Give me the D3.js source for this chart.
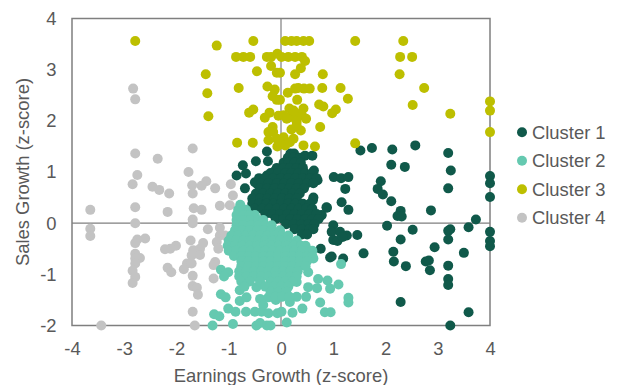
<!DOCTYPE html>
<html>
<head>
<meta charset="utf-8">
<script src="https://cdn.jsdelivr.net/npm/d3@7"></script>
<style>
body{margin:0;background:#fff;}
text{font-family:"Liberation Sans",Arial,sans-serif;fill:#595959;}
</style>
</head>
<body>
<div id="chart"></div>
<script>
var clusterNames=["Cluster 1","Cluster 2","Cluster 3","Cluster 4"];
var clusterColors=["#10594a","#65c9b0","#bdbf00","#c3c3c3"];
var xTicks=[-4,-3,-2,-1,0,1,2,3,4];
var yTicks=[-2,-1,0,1,2,3,4];

// scattered points
var cluster1=[[1.52,1.42],[1.74,1.47],[2.13,1.44],[2.57,1.52],[3.2,1.37],[2.11,1.14],[2.37,1.1],[3.25,1.03],[4,0.92],[1.01,0.9],[1.15,0.88],[1.29,0.9],[1.91,0.82],
[4,0.78],[4,0.51],[3.2,0.68],[1.85,0.67],[1.95,0.56],[2.11,0.43],[2.29,0.24],[2.23,0.14],[2.31,0.13],[2.87,0.25],[3.73,0.07],[3.59,-0.08],[3.24,-0.12],[3.2,-0.15],[3.2,-0.32],[2.03,-0.05],[2.52,-0.13],[2.29,-0.32],[1.46,-0.23],[4,-0.17],[4,-0.35],[4,-0.45],[2.94,-0.47],[3.5,-0.58],[2.15,-0.56],[1.58,-0.59],[2.16,-0.75],[2.39,-0.84],[2.77,-0.75],[2.83,-0.73],[2.85,-0.92],[3.2,-0.83],[3.2,-1.09],[3.2,-1.21],[2.29,-1.54],[3.59,-1.74],[3.24,-2],
[1.23,0.67],[1.16,0.41],[1.29,0.26],[0.88,0.3],[0.78,0.16],[0.62,0.5],[1,-0.04],[0.97,-0.17],[1.13,-0.17],[1.26,-0.24],[1,-0.33],[1.08,-0.35],[1.18,-0.27],[0.76,-0.5],[0.97,-0.65],[1.19,-0.69],[0.94,-0.67],
[-0.27,1.4],[-0.25,1.21],[-0.48,1.21],[-0.73,1.13],[-0.85,0.93],[-0.67,0.97],[-0.69,0.68],[-0.5,0.8],[-0.27,0.93],[-0.11,1.03],[0.63,1.03],[0.7,0.84],[0.61,0.45],[0.55,0.31],[0.87,0.31],[0.77,0.15],[0.46,1.32],[0.6,1.32],[-0.46,0.77]];
// the solid core, row by row: [y, x values]
var cluster1Core=[[1.36,[0.18,0.25]],[1.28,[0.13,0.24,0.36]],[1.18,[0.05,0.14,0.26,0.38]],[1.08,[-0.08,0.05,0.17,0.3,0.42]],[0.98,[-0.2,-0.06,0.08,0.2,0.33,0.46,0.6]],[0.88,[-0.42,-0.3,-0.15,0,0.14,0.28,0.42,0.56,0.68]],[0.78,[-0.38,-0.24,-0.08,0.06,0.2,0.34,0.5,0.62]],[0.68,[-0.4,-0.27,-0.12,0.02,0.16,0.3,0.44]],[0.58,[-0.48,-0.34,-0.2,-0.06,0.08,0.22,0.36]],[0.48,[-0.55,-0.4,-0.26,-0.12,0.02,0.16,0.3]],[0.38,[-0.55,-0.42,-0.28,-0.14,0,0.14,0.28,0.42,0.55]],[0.28,[-0.5,-0.36,-0.22,-0.08,0.06,0.2,0.34,0.48,0.6]],[0.18,[-0.3,-0.16,-0.02,0.12,0.26,0.4,0.54,0.68]],[0.08,[-0.1,0.04,0.18,0.32,0.46,0.6,0.72]],[-0.02,[0.1,0.24,0.38,0.52,0.64]],[-0.12,[0.26,0.4,0.54,0.62]],[-0.22,[0.4,0.5]]];

var cluster2=[[-1.15,-0.91],[-1.01,-0.96],[-1.09,-1.04],[-1.15,-1.39],[-1.06,-1.45],[-1.01,-1.67],[-0.87,-1.73],[-1.28,-1.78],[-1.18,-1.82],[-1.31,-2],[-0.92,-1.97],[-0.47,-2],[-0.4,-1.95],[-0.27,-2],[-0.2,-2],[-0.79,-1.52],[-0.66,-1.45],[-0.67,-1.73],[-0.5,-1.73],[-0.37,-1.73],[-0.24,-1.76],[-0.4,-1.48],[-0.24,-1.45],[-0.34,-1.6],[-0.1,-1.5],[-0.07,-1.76],[-0.47,-1.25],[-0.1,-1.28],[-0.79,-1.31],
[1.15,-0.8],[0.52,-0.96],[0.71,-1.09],[0.89,-1.12],[0.94,-1.28],[1.1,-1.2],[0.52,-1.25],[0.69,-1.27],[0.48,-1.44],[0.75,-1.55],[1.29,-1.46],[1.29,-1.55],[0.84,-1.74],[0.95,-1.74],[0.41,-1.67],[0.22,-1.75],[0.11,-1.94],[0.01,-1.73],[0.3,-1.44],[0.17,-1.54],[0.3,-1.15],[0.62,-0.69]];
var cluster2Core=[[0.36,[-0.78]],[0.26,[-0.82,-0.72,-0.67]],[0.16,[-0.85,-0.72,-0.6,-0.5]],[0.06,[-0.85,-0.72,-0.58,-0.44,-0.34]],[-0.04,[-0.85,-0.72,-0.58,-0.44,-0.3,-0.18]],[-0.14,[-0.88,-0.74,-0.6,-0.46,-0.32,-0.18,-0.02]],[-0.24,[-0.95,-0.82,-0.68,-0.54,-0.4,-0.26,-0.12,0.02,0.14]],[-0.34,[-1,-0.86,-0.72,-0.58,-0.44,-0.3,-0.16,-0.02,0.12,0.3]],[-0.44,[-1.02,-0.88,-0.74,-0.6,-0.46,-0.32,-0.18,-0.04,0.1,0.24,0.38,0.47]],[-0.54,[-1,-0.86,-0.72,-0.58,-0.44,-0.3,-0.16,-0.02,0.12,0.26,0.4,0.55,0.6]],[-0.64,[-0.9,-0.76,-0.62,-0.48,-0.34,-0.2,-0.06,0.08,0.22,0.36,0.5,0.6]],[-0.74,[-0.76,-0.62,-0.48,-0.34,-0.2,-0.06,0.08,0.22,0.36,0.5]],[-0.84,[-0.76,-0.62,-0.48,-0.34,-0.2,-0.06,0.08,0.22,0.36,0.47]],[-0.94,[-0.8,-0.66,-0.52,-0.38,-0.24,-0.1,0.04,0.18,0.32]],[-1.04,[-0.8,-0.66,-0.52,-0.38,-0.24,-0.1,0.04,0.18,0.3]],[-1.14,[-0.76,-0.6,-0.4,-0.2,-0.06,0.08,0.22]],[-1.24,[-0.7,-0.3,-0.14,0,0.14]],[-1.34,[-0.2,-0.05,0.1]],[-1.44,[-0.1,0.02,0.16]]];

var cluster3=[[-2.79,3.56],[-1.23,3.47],[-0.53,3.56],[-0.86,3.25],[-0.72,3.25],[-0.59,3.25],[-0.27,3.25],[-0.19,3.25],[-0.07,3.31],[-0.19,3.07],[-0.46,2.97],[-0.08,2.94],[-1.44,2.91],[-1.41,2.54],[-0.81,2.64],[-0.26,2.67],[-0.12,2.61],[-0.16,2.48],[-0.08,2.41],[-1.39,2.09],[-0.61,2.16],[-0.53,2.22],[-0.22,2.16],[-0.31,2.06],[-0.05,2.1],[-0.16,1.88],[-0.24,1.78],[-0.15,1.78],[-0.24,1.62],[-0.08,1.65],[-0.84,1.57],[-0.54,1.57],[-0.07,1.5],
[0.08,3.56],[0.2,3.56],[0.3,3.56],[0.43,3.56],[0.54,3.56],[1.42,3.56],[2.34,3.56],[0.01,3.25],[0.14,3.25],[0.27,3.25],[0.4,3.25],[0.46,3.17],[0.38,3.03],[0.27,2.91],[0.8,2.91],[2.28,3.25],[2.51,3.25],[2.27,2.91],[2.74,2.64],[2.52,2.31],[3.24,2.14],[4,2.38],[4,2.2],[4,1.78],[0.13,2.55],[0.27,2.63],[0.33,2.64],[0.44,2.63],[0.55,2.63],[0.31,2.41],[0.79,2.64],[1.14,2.64],[1.28,2.43],[0.73,2.32],[0.81,2.28],[0.98,2.15],[1.05,2.22],[0.75,1.88],[1.42,1.56],[0.65,1.5],[0.43,1.52],[0.24,1.65],[0.05,1.68],[-0.02,1.55],[0.08,1.52],[0.17,1.58],[0.16,2.24],[0.43,2.24],[0.05,2.11],[0.17,2.07],[0.3,2.14],[0.4,2.11],[0.48,2.04],[0.11,2.04],[0.3,1.98],[0.2,1.83],[0.38,1.81],[0.3,1.91],[0.24,2.2],[-0.02,2.94],[-0.02,2.41]];

var cluster4=[[-2.83,2.63],[-2.79,2.42],[-2.79,1.36],[-2.36,1.26],[-1.69,1.46],[-1.77,1],[-2.75,0.94],[-1.43,0.82],[-1.52,0.73],[-2.84,0.76],[-2.46,0.71],[-2.33,0.65],[-2.14,0.58],[-1.7,0.74],[-1.69,0.58],[-1.26,0.68],[-0.96,0.76],[-0.92,0.54],[-1.17,0.34],[-0.98,0.35],[-3.65,0.26],[-2.79,0.31],[-2.17,0.22],[-1.67,0.29],[-1.52,0.26],[-1.69,0.07],[-1.69,0],[-2.79,0],[-1.4,-0.12],[-3.65,-0.11],[-3.65,-0.25],[-1.17,-0.09],[-1.17,-0.24],[-1.07,-0.24],[-1.23,-0.37],[-1.2,-0.5],[-2.6,-0.3],[-2.75,-0.32],[-2.79,-0.39],[-1.73,-0.34],[-1.49,-0.39],[-2.01,-0.44],[-2.12,-0.5],[-2.22,-0.51],[-1.55,-0.5],[-1.68,-0.53],[-1.71,-0.63],[-1.55,-0.62],[-2.79,-0.6],[-2.7,-0.68],[-2.79,-0.69],[-2.79,-0.79],[-2.84,-0.93],[-2.79,-1.05],[-2.84,-1.17],[-2.17,-0.87],[-2.1,-0.96],[-1.8,-0.79],[-1.71,-0.79],[-1.86,-0.9],[-1.26,-0.76],[-1.29,-0.82],[-1.29,-1.08],[-1.69,-1.03],[-1.69,-1.23],[-1.61,-1.26],[-1.59,-1.4],[-1.69,-1.73],[-1.65,-2],[-3.44,-2]];

function withCore(points,core){
  var out=points.slice();
  core.forEach(function(row){
    row[1].forEach(function(x){out.push([x,row[0]]);});
  });
  return out;
}

var width=618,height=385;
var left=72,right=490,top_=18.5,bottom=325.5;
var r=5;
var fontSize=18.4;

var svg=d3.select("#chart").append("svg")
  .attr("width",width)
  .attr("height",height)
  .style("display","block");

var xScale=d3.scaleLinear().domain([-4,4]).range([left,right]);
var yScale=d3.scaleLinear().domain([-2,4]).range([bottom,top_]);

// frame and the two zero lines
svg.append("rect")
  .attr("x",left).attr("y",top_)
  .attr("width",right-left).attr("height",bottom-top_)
  .attr("fill","none").attr("stroke","#7f7f7f").attr("stroke-width",1.5);
svg.append("line")
  .attr("x1",xScale(0)).attr("x2",xScale(0))
  .attr("y1",top_).attr("y2",bottom)
  .attr("stroke","#7f7f7f").attr("stroke-width",1.2);
svg.append("line")
  .attr("x1",left).attr("x2",right)
  .attr("y1",yScale(0)).attr("y2",yScale(0))
  .attr("stroke","#7f7f7f").attr("stroke-width",1.2);

var xAxis=d3.axisBottom(xScale).tickValues(xTicks).tickSize(0).tickPadding(16.5).tickFormat(function(d){return String(d);});
var yAxis=d3.axisLeft(yScale).tickValues(yTicks).tickSize(0).tickPadding(15.5).tickFormat(function(d){return String(d);});

var gx=svg.append("g").attr("transform","translate(0,"+bottom+")").call(xAxis);
var gy=svg.append("g").attr("transform","translate("+left+",0)").call(yAxis);
gx.select(".domain").remove();
gy.select(".domain").remove();
gx.selectAll("text").attr("font-size",fontSize).style("font-family",'"Liberation Sans"');
gy.selectAll("text").attr("font-size",fontSize).style("font-family",'"Liberation Sans"');

svg.append("text")
  .attr("text-anchor","middle")
  .attr("font-size",fontSize)
  .attr("x",281)
  .attr("y",381.5)
  .text("Earnings Growth (z-score)");
svg.append("text")
  .attr("text-anchor","middle")
  .attr("font-size",fontSize)
  .attr("transform","translate(28.5,172) rotate(-90)")
  .text("Sales Growth (z-score)");

// gray goes under everything, yellow on top
var layers=[[cluster4,3],[withCore(cluster1,cluster1Core),0],[withCore(cluster2,cluster2Core),1],[cluster3,2]];
layers.forEach(function(layer){
  svg.append("g").selectAll("circle")
    .data(layer[0])
    .enter()
    .append("circle")
    .attr("cx",function(d){return xScale(d[0]);})
    .attr("cy",function(d){return yScale(d[1]);})
    .attr("r",r)
    .attr("fill",clusterColors[layer[1]]);
});

var legendY=d3.scalePoint().domain(clusterNames).range([132.3,217.7]);
var legend=svg.append("g").selectAll("g")
  .data(clusterNames)
  .enter()
  .append("g")
  .attr("transform",function(d){return "translate(522,"+legendY(d)+")";});
legend.append("circle")
  .attr("r",r)
  .attr("fill",function(d,i){return clusterColors[i];});
legend.append("text")
  .attr("x",10)
  .attr("y",6.5)
  .attr("font-size",fontSize)
  .text(function(d){return d;});
</script>
</body>
</html>
